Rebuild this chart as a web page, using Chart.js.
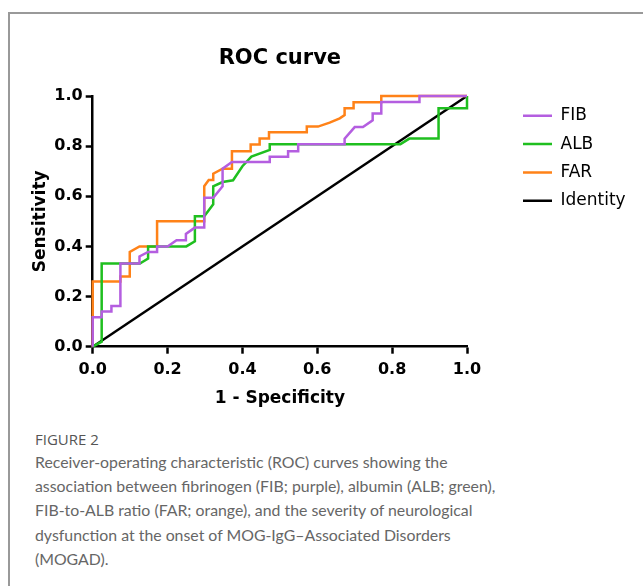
<!DOCTYPE html>
<html>
<head>
<meta charset="utf-8">
<script src="https://cdn.jsdelivr.net/npm/chart.js@4.4.0/dist/chart.umd.min.js"></script>
<style>
  body { margin: 0; background: #fff; width: 643px; height: 586px; overflow: hidden; position: relative; }
  .card { position: absolute; left: 8px; top: 12px; width: 700px; height: 700px; border: 2px solid #999; box-sizing: border-box; }
  #roc { position: absolute; left: 0; top: 0; }
  .figlabel { position: absolute; left: 35px; top: 430px; font-family: "Open Sans"; font-size: 15px; line-height: 18px; color: #555; }
  .caption { position: absolute; left: 35px; top: 450px; font-family: "Lato"; font-size: 15.85px; line-height: 24.2px; color: #666; white-space: nowrap; }
</style>
</head>
<body>
<div class="card"></div>
<canvas id="roc" width="643" height="420"></canvas>
<div class="figlabel">FIGURE 2</div>
<div class="caption">Receiver-operating characteristic (ROC) curves showing the<br>association between fibrinogen (FIB; purple), albumin (ALB; green),<br>FIB-to-ALB ratio (FAR; orange), and the severity of neurological<br>dysfunction at the onset of MOG-IgG–Associated Disorders<br>(MOGAD).</div>
<script>
// ROC points (1 - specificity, sensitivity)
const fibX = [0, 0, 0.024, 0.024, 0.05, 0.05, 0.074, 0.074, 0.125, 0.125, 0.148, 0.172, 0.172, 0.2, 0.224, 0.249, 0.249, 0.273, 0.298, 0.298, 0.322, 0.347, 0.347, 0.372, 0.473, 0.473, 0.522, 0.522, 0.549, 0.549, 0.673, 0.673, 0.7, 0.722, 0.748, 0.748, 0.771, 0.771, 0.873, 0.873, 1];
const fibY = [0, 0.117, 0.117, 0.14, 0.14, 0.162, 0.162, 0.332, 0.332, 0.36, 0.378, 0.378, 0.40, 0.40, 0.425, 0.425, 0.45, 0.475, 0.475, 0.594, 0.594, 0.64, 0.71, 0.737, 0.737, 0.758, 0.758, 0.78, 0.78, 0.808, 0.808, 0.83, 0.876, 0.876, 0.903, 0.93, 0.93, 0.976, 0.976, 1, 1];

const albX = [0, 0.024, 0.024, 0.126, 0.148, 0.148, 0.25, 0.273, 0.273, 0.298, 0.322, 0.322, 0.347, 0.375, 0.4, 0.424, 0.473, 0.473, 0.822, 0.846, 0.924, 0.924, 1, 1];
const albY = [0, 0.02, 0.332, 0.332, 0.352, 0.40, 0.40, 0.42, 0.52, 0.52, 0.568, 0.64, 0.657, 0.664, 0.72, 0.758, 0.785, 0.808, 0.808, 0.83, 0.83, 0.951, 0.951, 1];

const farX = [0, 0, 0.074, 0.074, 0.099, 0.099, 0.125, 0.172, 0.172, 0.298, 0.298, 0.31, 0.322, 0.322, 0.347, 0.372, 0.372, 0.422, 0.422, 0.446, 0.446, 0.471, 0.471, 0.572, 0.572, 0.602, 0.633, 0.66, 0.673, 0.673, 0.697, 0.697, 0.771, 0.771, 1];
const farY = [0, 0.26, 0.26, 0.28, 0.28, 0.378, 0.40, 0.40, 0.50, 0.50, 0.64, 0.665, 0.665, 0.69, 0.71, 0.71, 0.78, 0.78, 0.807, 0.807, 0.83, 0.83, 0.855, 0.855, 0.878, 0.878, 0.894, 0.911, 0.924, 0.951, 0.951, 0.975, 0.975, 1, 1];

const identityX = [0, 1];
const identityY = [0, 1];

const seriesNames = ['FIB', 'ALB', 'FAR', 'Identity'];
const seriesColors = ['#b45ee0', '#1fbf1f', '#ff8218', '#000000'];
const tickValues = [0, 0.2, 0.4, 0.6, 0.8, 1.0];

function pts(xs, ys) {
  return xs.map((x, i) => ({ x: x, y: ys[i] }));
}

const allX = [fibX, albX, farX, identityX];
const allY = [fibY, albY, farY, identityY];

const bold16 = { family: 'DejaVu Sans', size: 16, weight: 'bold' };
const bold17 = { family: 'DejaVu Sans', size: 17, weight: 'bold' };

new Chart(document.getElementById('roc'), {
  type: 'scatter',
  data: {
    datasets: seriesNames.map((name, i) => ({
      label: name,
      data: pts(allX[i], allY[i]),
      showLine: true,
      borderColor: seriesColors[i],
      backgroundColor: seriesColors[i],
      borderWidth: 2.5,
      pointRadius: 0,
      tension: 0,
      clip: false
    }))
  },
  options: {
    responsive: false,
    animation: false,
    layout: { padding: { left: 0, right: 16.3, top: 0, bottom: 9.3 } },
    plugins: {
      title: {
        display: true, text: 'ROC curve', fullSize: false, color: '#000',
        font: { family: 'DejaVu Sans', size: 21, weight: 'bold' },
        padding: { top: 46, bottom: 24.8 }
      },
      legend: {
        position: 'right', align: 'start', fullSize: false, maxWidth: 115,
        labels: {
          boxWidth: 29, boxHeight: 0,
          padding: 11.3, color: '#000',
          font: { family: 'DejaVu Sans', size: 17 }
        }
      },
      tooltip: { enabled: false }
    },
    scales: {
      x: {
        type: 'linear', min: 0, max: 1,
        afterBuildTicks: s => { s.ticks = tickValues.map(v => ({ value: v })); },
        ticks: { callback: v => v.toFixed(1), color: '#000', font: bold16, padding: 7, maxRotation: 0 },
        grid: { drawOnChartArea: false, tickLength: 7, tickWidth: 2.5, tickColor: '#000' },
        border: { color: '#000', width: 2.5 },
        title: { display: true, text: '1 - Specificity', color: '#000', font: bold17, padding: { top: 0, bottom: 1.5 } },
        afterFit: s => { s.height = 64; }
      },
      y: {
        type: 'linear', min: 0, max: 1,
        afterBuildTicks: s => { s.ticks = tickValues.map(v => ({ value: v })); },
        ticks: { callback: v => v.toFixed(1), color: '#000', font: bold16, padding: 3 },
        grid: { drawOnChartArea: false, tickLength: 7, tickWidth: 2.5, tickColor: '#000' },
        border: { color: '#000', width: 2.5 },
        title: { display: true, text: 'Sensitivity', color: '#000', font: bold17, padding: { top: 30.8, bottom: 0 } },
        afterFit: s => { s.width = 92.7; }
      },
      // empty spacer between the plot and the legend
      y2: {
        position: 'right', display: true,
        ticks: { display: false }, grid: { display: false }, border: { display: false },
        afterFit: s => { s.width = 44.7; }
      }
    }
  }
});
</script>
</body>
</html>
